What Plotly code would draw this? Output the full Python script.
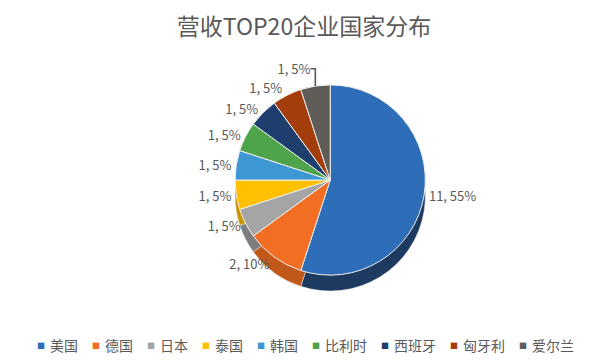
import plotly.graph_objects as go

countries = ["美国", "德国", "日本", "泰国", "韩国", "比利时", "西班牙", "匈牙利", "爱尔兰"]
counts = [11, 2, 1, 1, 1, 1, 1, 1, 1]
top_colors = ["#2E6DB8", "#F26E22", "#A5A5A5", "#FFC000", "#3D97D3",
              "#4EA44A", "#1E3F6E", "#A33E0C", "#5F5B57"]
side_colors = ["#1D3A60", "#C2571A", "#7E7E7E", "#C79400", "#2A6E9E",
               "#3A7A37", "#142B4C", "#7A2E09", "#454240"]

W, H = 600, 361
OFF = 8  # page offset of the figure in the browser window
fig = go.Figure()

# darker copy, shifted down, to give the pie a thickness
fig.add_trace(go.Pie(
    labels=countries, values=counts, sort=False, direction="clockwise",
    rotation=0, marker=dict(colors=side_colors, line=dict(color="#E8E8E8", width=0.5)),
    textinfo="none", hoverinfo="skip", showlegend=False,
    domain=dict(x=[0.074, 1.0], y=[0.216, 0.743]),
))

fig.add_trace(go.Pie(
    labels=countries, values=counts, sort=False, direction="clockwise",
    rotation=0, marker=dict(colors=top_colors, line=dict(color="#F0F0F0", width=1)),
    texttemplate="%{value}, %{percent:.0%}", textposition="outside",
    textfont=dict(size=13, color="#595959"), showlegend=False,
    domain=dict(x=[0.074, 1.0], y=[0.260, 0.787]),
))

# legend row (one entry per category, built from the data lists)
annotations = []
x = 41 - OFF
ly = 1 - (345 - OFF) / H
for name, color in zip(countries, top_colors):
    annotations.append(dict(text="■", x=x / W, y=ly, xref="paper", yref="paper",
                            xanchor="center", yanchor="middle", showarrow=False,
                            font=dict(size=8, color=color)))
    annotations.append(dict(text=name, x=(x + 7) / W, y=ly, xref="paper", yref="paper",
                            xanchor="left", yanchor="middle", showarrow=False,
                            font=dict(size=14, color="#595959")))
    x += 8 + 14 * len(name) + 19

fig.update_layout(
    width=W, height=H,
    paper_bgcolor="white", plot_bgcolor="white",
    font=dict(family="Noto Sans CJK SC, Noto Sans, sans-serif", color="#595959"),
    title=dict(text="营收TOP20企业国家分布", x=(304 - OFF) / W, xanchor="center",
               y=1 - (27 - OFF) / H, yanchor="middle",
               font=dict(size=23, color="#595959")),
    annotations=annotations,
    showlegend=False,
    margin=dict(l=0, r=0, t=0, b=0, autoexpand=False),
)

fig.write_html("out.html")
